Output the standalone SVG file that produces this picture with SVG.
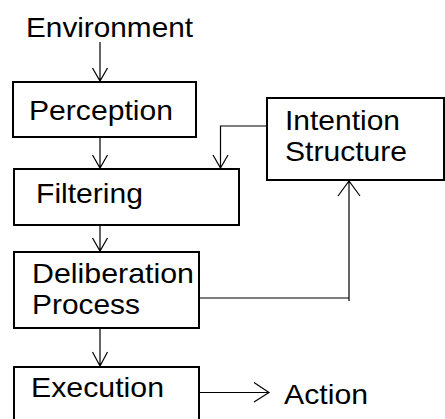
<svg xmlns="http://www.w3.org/2000/svg" width="445" height="419" viewBox="0 0 445 419">
<style>
.box{fill:#fff;stroke:#000;stroke-width:2}
.lbl{font-family:"Liberation Sans",Arial,sans-serif;font-size:28px;fill:#000}
.con{fill:none;stroke:#000;stroke-width:1.2}
</style>
<rect width="445" height="419" fill="#fff"/>
<g id="environment"><text class="lbl" x="26" y="37" textLength="167" lengthAdjust="spacingAndGlyphs">Environment</text></g>
<g id="perception"><rect class="box" x="13" y="82" width="183" height="55"/><text class="lbl" x="29" y="120" textLength="144" lengthAdjust="spacingAndGlyphs">Perception</text></g>
<g id="filtering"><rect class="box" x="14" y="169" width="225" height="56"/><text class="lbl" x="36" y="203" textLength="107" lengthAdjust="spacingAndGlyphs">Filtering</text></g>
<g id="deliberation"><rect class="box" x="14" y="252" width="185" height="76"/><text class="lbl" x="32" y="283" textLength="162" lengthAdjust="spacingAndGlyphs">Deliberation</text><text class="lbl" x="32" y="314" textLength="108" lengthAdjust="spacingAndGlyphs">Process</text></g>
<g id="intention"><rect class="box" x="267" y="98" width="177" height="82"/><text class="lbl" x="285" y="130" textLength="115" lengthAdjust="spacingAndGlyphs">Intention</text><text class="lbl" x="285" y="161" textLength="122" lengthAdjust="spacingAndGlyphs">Structure</text></g>
<g id="execution"><rect class="box" x="14" y="367" width="185" height="70"/><text class="lbl" x="31" y="397" textLength="133" lengthAdjust="spacingAndGlyphs">Execution</text></g>
<g id="action"><text class="lbl" x="284" y="404" textLength="84" lengthAdjust="spacingAndGlyphs">Action</text></g>
<g id="connectors">
<path class="con" d="M100 42V81M92.5 68L100 81L107.5 68"/>
<path class="con" d="M100 137V168M92.5 155L100 168L107.5 155"/>
<path class="con" d="M266 126H220.5V168M213 155L220.5 168L228 155"/>
<path class="con" d="M100 225V251M92.5 238L100 251L107.5 238"/>
<path class="con" d="M199 298H349M349 301V181M338 196L349 181L360 196"/>
<path class="con" d="M100 328V366M92.5 352L100 366L107.5 352"/>
<path class="con" d="M199 392.5H269M254 382.5L269 392.5L254 402"/>
</g>
</svg>
